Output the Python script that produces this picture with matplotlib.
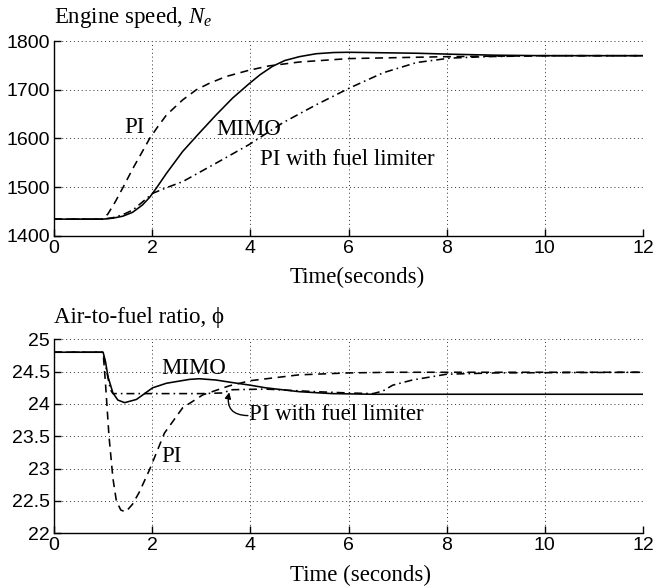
import matplotlib
matplotlib.use("Agg")
import matplotlib.pyplot as plt

# ---------------- data ----------------
# Engine speed, N_e
t_mimo_n = [0, 1.0, 1.2, 1.4, 1.6, 1.8, 1.95, 2.1, 2.29, 2.62, 2.96, 3.30, 3.64, 3.97, 4.2, 4.45, 4.7, 5.0, 5.34, 5.7, 6.0, 7.4, 8.1, 9.0, 10, 12]
mimo_n = [1434, 1434, 1436, 1440, 1448, 1463, 1479, 1500, 1528, 1573, 1611, 1648, 1683, 1712, 1731, 1748, 1760, 1768, 1774, 1776.5, 1777, 1775, 1773, 1771, 1770, 1770]

t_pi_n = [0, 1.0, 1.1, 1.25, 1.41, 1.6, 1.8, 1.95, 2.1, 2.29, 2.62, 2.9, 3.16, 3.5, 3.97, 4.38, 5.0, 6.0, 8.0, 10, 12]
pi_n = [1434, 1434, 1445, 1470, 1500, 1537, 1573, 1600, 1622, 1648, 1679, 1700, 1713, 1727, 1740, 1749, 1757, 1764, 1768, 1770, 1770]

t_lim_n = [0, 1.0, 1.2, 1.4, 1.61, 2.01, 2.3, 2.62, 3.30, 3.97, 4.66, 5.34, 6.03, 6.71, 7.39, 8.07, 8.8, 10, 12]
lim_n = [1434, 1434, 1437, 1443, 1453, 1487, 1499, 1511, 1549, 1587, 1632, 1669, 1704, 1735, 1756, 1765, 1768, 1770, 1770]

# Air-to-fuel ratio, phi
t_mimo_phi = [0, 1.0, 1.05, 1.1, 1.2, 1.3, 1.44, 1.68, 2.01, 2.29, 2.76, 2.96, 3.3, 3.64, 4.0, 4.31, 4.99, 5.66, 6.5, 12]
mimo_phi = [24.8, 24.8, 24.65, 24.42, 24.17, 24.06, 24.02, 24.07, 24.25, 24.32, 24.38, 24.39, 24.37, 24.33, 24.29, 24.25, 24.19, 24.16, 24.15, 24.15]

t_pi_phi = [0, 1.0, 1.05, 1.12, 1.2, 1.27, 1.36, 1.46, 1.6, 1.74, 1.95, 2.25, 2.62, 3.03, 3.57, 4.0, 4.99, 6.0, 6.88, 8, 12]
pi_phi = [24.8, 24.8, 24.3, 23.5, 22.85, 22.5, 22.36, 22.33, 22.45, 22.64, 22.99, 23.55, 23.94, 24.14, 24.28, 24.36, 24.45, 24.48, 24.49, 24.49, 24.49]

t_lim_phi = [0, 1.0, 1.05, 1.1, 1.15, 1.2, 2.0, 3.0, 3.43, 3.63, 4.31, 5.33, 6.0, 6.5, 6.7, 6.9, 7.3, 8.0, 9, 12]
lim_phi = [24.8, 24.8, 24.6, 24.4, 24.22, 24.16, 24.16, 24.16, 24.17, 24.22, 24.23, 24.19, 24.17, 24.16, 24.2, 24.29, 24.37, 24.46, 24.48, 24.49]

xticks = [0, 2, 4, 6, 8, 10, 12]
yticks_n = [1400, 1500, 1600, 1700, 1800]
yticks_phi = [22, 22.5, 23, 23.5, 24, 24.5, 25]
ytick_labels_phi = ["22", "22.5", "23", "23.5", "24", "24.5", "25"]

# ---------------- style ----------------
plt.rcParams['mathtext.fontset'] = 'custom'
plt.rcParams['mathtext.rm'] = 'Liberation Serif'
plt.rcParams['mathtext.it'] = 'Liberation Serif:italic'

SERIF = ['Liberation Serif', 'DejaVu Serif']
SANS = ['Liberation Sans', 'DejaVu Sans']
TXT = 16.5
TICK = 14

fig = plt.figure(figsize=(6.67, 5.87), dpi=100)
ax1 = fig.add_axes([0.081, 0.5985, 0.883, 0.3315])
ax2 = fig.add_axes([0.081, 0.0915, 0.883, 0.3305])

dash = (0, (5, 3.5))
dashdot = (0, (5, 2.5, 1, 2.5))
lw = 1.15

def style(ax):
    ax.spines['top'].set_visible(False)
    ax.spines['right'].set_visible(False)
    ax.spines['left'].set_linewidth(1.0)
    ax.spines['bottom'].set_linewidth(1.0)
    ax.tick_params(direction='in', length=5, width=1.0, labelsize=TICK, pad=3)
    for lab in ax.get_xticklabels() + ax.get_yticklabels():
        lab.set_family(SANS)
    ax.grid(True, color='#333333', linestyle=(0, (1, 3)), linewidth=0.7)
    ax.set_axisbelow(True)
    ax.set_xlim(0, 12)
    ax.set_xticks(xticks)

# top
ax1.plot(t_mimo_n, mimo_n, color='black', lw=lw, linestyle='-')
ax1.plot(t_pi_n, pi_n, color='black', lw=lw, linestyle=dash)
ax1.plot(t_lim_n, lim_n, color='black', lw=lw, linestyle=dashdot)
ax1.set_ylim(1400, 1800)
ax1.set_yticks(yticks_n)
style(ax1)
ax1.set_xlabel('Time(seconds)', family=SERIF, fontsize=TXT)
ax1.xaxis.set_label_coords(0.515, -0.162)
ax1.set_title(r'Engine speed, $N_e$', loc='left', family=SERIF, fontsize=TXT, pad=13)
ax1.text(1.44, 1622, 'PI', family=SERIF, fontsize=TXT, ha='left', va='center')
ax1.text(3.31, 1618, 'MIMO', family=SERIF, fontsize=TXT, ha='left', va='center')
ax1.text(4.19, 1557, 'PI with fuel limiter', family=SERIF, fontsize=TXT, ha='left', va='center')

# bottom
ax2.plot(t_mimo_phi, mimo_phi, color='black', lw=lw, linestyle='-')
ax2.plot(t_pi_phi, pi_phi, color='black', lw=lw, linestyle=dash)
ax2.plot(t_lim_phi, lim_phi, color='black', lw=lw, linestyle=dashdot)
ax2.set_ylim(22, 25)
ax2.set_yticks(yticks_phi)
ax2.set_yticklabels(ytick_labels_phi)
style(ax2)
ax2.set_xlabel('Time (seconds)', family=SERIF, fontsize=TXT)
ax2.xaxis.set_label_coords(0.52, -0.163)
ax2.set_title('Air-to-fuel ratio, \u03d5', loc='left', family=SERIF, fontsize=TXT, pad=12)
ax2.text(2.19, 24.55, 'MIMO', family=SERIF, fontsize=TXT, ha='left', va='center')
ax2.text(2.19, 23.18, 'PI', family=SERIF, fontsize=TXT, ha='left', va='center')
ax2.text(3.98, 23.83, 'PI with fuel limiter', family=SERIF, fontsize=TXT, ha='left', va='center')
ax2.annotate('', xy=(3.57, 24.18), xytext=(3.95, 23.82),
             arrowprops=dict(arrowstyle='-|>', color='black', lw=1.0,
                             connectionstyle='arc3,rad=-0.6', mutation_scale=9,
                             shrinkA=0, shrinkB=0))

fig.savefig('out.png', dpi=100)
